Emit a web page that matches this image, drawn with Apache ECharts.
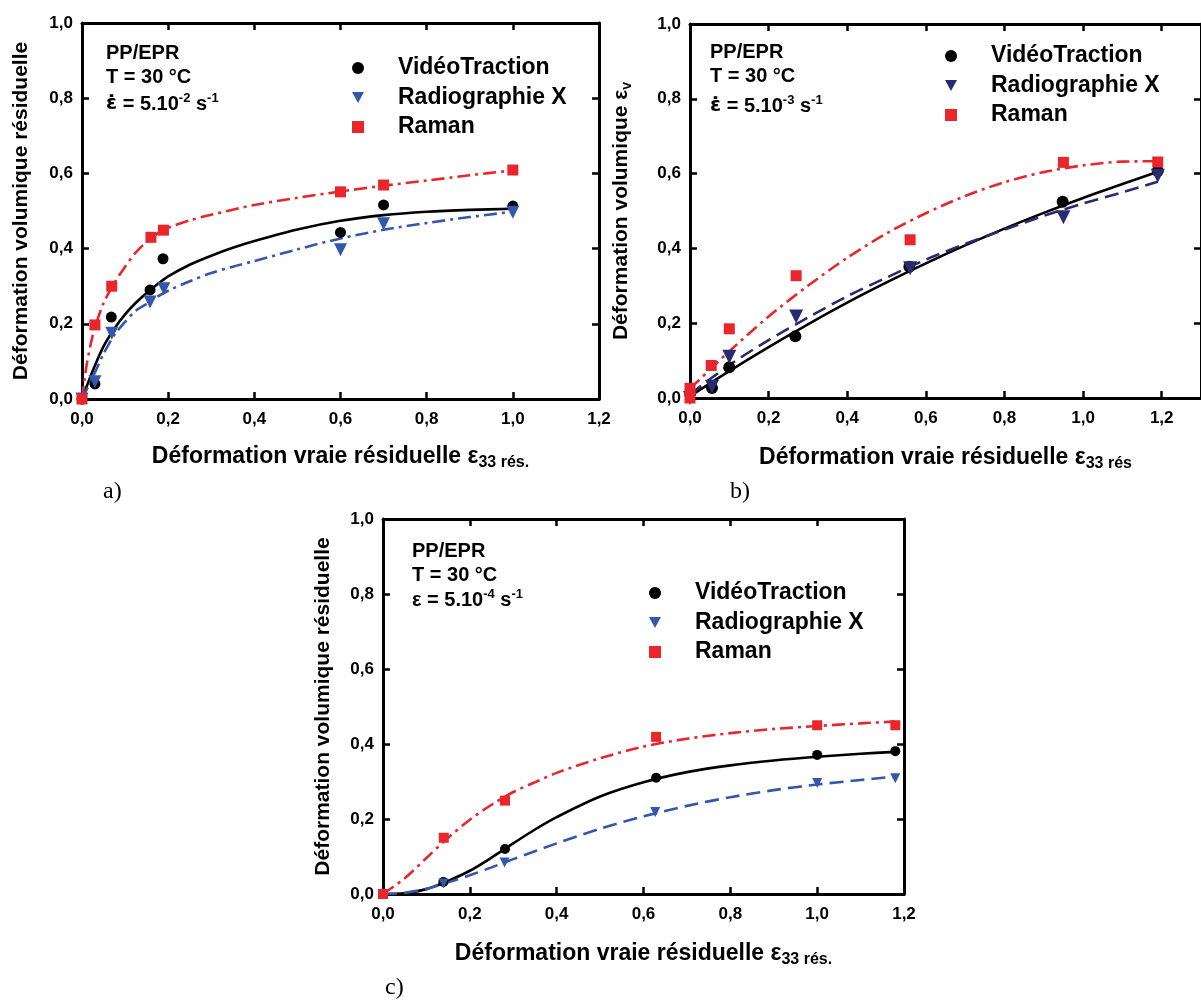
<!DOCTYPE html>
<html>
<head>
<meta charset="utf-8">
<script src="https://cdn.jsdelivr.net/npm/echarts@6/dist/echarts.min.js"></script>
<style>
html,body{margin:0;padding:0;background:#fff;}
#chart{width:1201px;height:1001px;}
</style>
</head>
<body>
<div id="chart"></div>
<script>
// ---------- tick labels ----------
const xTickLabels = ['0,0', '0,2', '0,4', '0,6', '0,8', '1,0', '1,2'];
const yTickLabels = ['0,0', '0,2', '0,4', '0,6', '0,8', '1,0'];
const legendNames = ['VidéoTraction', 'Radiographie X', 'Raman'];

// ---------- panel a (5.10-2 s-1) ----------
const aVideo = [[0,0],[0.03,0.04],[0.068,0.218],[0.158,0.29],[0.188,0.373],[0.6,0.443],[0.7,0.516],[1.0,0.513]];
const aRadio = [[0,0],[0.03,0.046],[0.069,0.175],[0.158,0.258],[0.19,0.293],[0.6,0.397],[0.7,0.466],[1.0,0.497]];
const aRaman = [[0,0],[0.03,0.197],[0.069,0.30],[0.16,0.43],[0.189,0.449],[0.6,0.551],[0.7,0.569],[1.0,0.609]];
const aVideoFit = [[0,0],[0.025,0.075],[0.05,0.14],[0.075,0.187],[0.1,0.225],[0.125,0.256],[0.15,0.282],[0.175,0.305],[0.2,0.326],[0.25,0.357],[0.3,0.381],[0.35,0.402],[0.4,0.42],[0.5,0.451],[0.6,0.474],[0.7,0.489],[0.8,0.498],[0.9,0.503],[1.0,0.506]];
const aRadioFit = [[0,0],[0.025,0.058],[0.05,0.12],[0.075,0.17],[0.1,0.205],[0.125,0.235],[0.15,0.253],[0.175,0.272],[0.2,0.288],[0.25,0.313],[0.3,0.335],[0.35,0.352],[0.4,0.367],[0.5,0.398],[0.6,0.427],[0.7,0.45],[0.8,0.468],[0.9,0.484],[1.0,0.498]];
const aRamanFit = [[0,0],[0.01,0.085],[0.02,0.145],[0.03,0.19],[0.05,0.255],[0.075,0.308],[0.1,0.352],[0.125,0.39],[0.15,0.418],[0.175,0.44],[0.2,0.455],[0.25,0.475],[0.3,0.49],[0.4,0.516],[0.5,0.535],[0.6,0.552],[0.7,0.567],[0.8,0.581],[0.9,0.595],[1.0,0.608]];

// ---------- panel b (5.10-3 s-1) ----------
const bVideo = [[0,0.012],[0.056,0.027],[0.1,0.082],[0.268,0.165],[0.558,0.351],[0.948,0.525],[1.19,0.607]];
const bRadio = [[0,0],[0.056,0.03],[0.1,0.11],[0.27,0.218],[0.56,0.347],[0.95,0.483],[1.19,0.594]];
const bRaman = [[0,0],[0,0.026],[0.054,0.087],[0.1,0.185],[0.27,0.327],[0.56,0.423],[0.95,0.63],[1.19,0.631]];
const bVideoFit = [[0,0.005],[0.1,0.072],[0.2,0.136],[0.3,0.197],[0.4,0.255],[0.5,0.309],[0.6,0.36],[0.7,0.408],[0.8,0.453],[0.9,0.495],[1.0,0.535],[1.1,0.572],[1.19,0.605]];
const bRadioFit = [[0,0.01],[0.1,0.088],[0.2,0.155],[0.3,0.215],[0.4,0.272],[0.5,0.322],[0.6,0.37],[0.7,0.412],[0.8,0.45],[0.9,0.487],[1.0,0.52],[1.1,0.55],[1.19,0.578]];
const bRamanFit = [[0,0.025],[0.05,0.075],[0.1,0.125],[0.2,0.218],[0.3,0.3],[0.4,0.375],[0.5,0.44],[0.6,0.494],[0.7,0.54],[0.8,0.577],[0.9,0.604],[1.0,0.622],[1.1,0.632],[1.19,0.633]];

// ---------- panel c (5.10-4 s-1) ----------
const cVideo = [[0,0],[0.139,0.032],[0.281,0.12],[0.629,0.31],[1.0,0.371],[1.18,0.381]];
const cRadio = [[0,0],[0.139,0.028],[0.28,0.084],[0.627,0.219],[1.0,0.296],[1.18,0.309]];
const cRaman = [[0,0],[0.14,0.15],[0.281,0.249],[0.629,0.419],[1.0,0.45],[1.18,0.45]];
const cVideoFit = [[0,0],[0.05,0.002],[0.1,0.013],[0.15,0.035],[0.2,0.062],[0.25,0.097],[0.3,0.135],[0.35,0.172],[0.4,0.205],[0.5,0.26],[0.6,0.298],[0.7,0.325],[0.8,0.343],[0.9,0.356],[1.0,0.366],[1.1,0.374],[1.18,0.379]];
const cRadioFit = [[0,0],[0.05,0.003],[0.1,0.014],[0.15,0.031],[0.2,0.05],[0.25,0.071],[0.3,0.093],[0.4,0.135],[0.5,0.174],[0.6,0.207],[0.7,0.235],[0.8,0.258],[0.9,0.277],[1.0,0.292],[1.1,0.304],[1.18,0.313]];
const cRamanFit = [[0,0],[0.05,0.042],[0.1,0.096],[0.15,0.15],[0.2,0.198],[0.25,0.238],[0.3,0.272],[0.35,0.298],[0.4,0.323],[0.5,0.362],[0.6,0.393],[0.7,0.414],[0.8,0.429],[0.9,0.44],[1.0,0.448],[1.1,0.455],[1.18,0.46]];

// ---------- styling ----------
const F = "'Liberation Sans', Arial, Helvetica, sans-serif";
const FD = "'DejaVu Sans', 'Liberation Sans', sans-serif";
const BLACK = '#000000', RED = '#e8262b', BLUE = '#3556ad', NAVY = '#272c72';
const DASHDOT = [13, 5, 3, 5];
const DASH = [14, 7];
const TRI = 'path://M0,0 L12,0 L6,11 Z';

const grids = [
  {left: 82, top: 23, width: 517, height: 376},
  {left: 690, top: 24, width: 519, height: 374},
  {left: 383, top: 519, width: 521, height: 375}
];
const xMax = [1.2, 1.3, 1.2];
const xNames = ['{m|Déformation vraie résiduelle ε}{s|33 rés.}', '{m|Déformation vraie résiduelle ε}{s|33 rés}', '{m|Déformation vraie résiduelle ε}{s|33 rés.}'];
const yNames = ['Déformation volumique résiduelle', '{m|Déformation volumique ε}{s|v}', 'Déformation volumique résiduelle'];
const yNameGap = [50, 56, 49];
const xNameGap = [43, 45, 45];

const xAxes = [], yAxes = [];
grids.forEach((g, i) => {
  const common = {
    gridIndex: i, type: 'value', min: 0, interval: 0.2,
    axisLine: {onZero: false, lineStyle: {color: BLACK, width: 3}},
    axisTick: {inside: true, length: 7, lineStyle: {color: BLACK, width: 2.5}},
    splitLine: {show: false}
  };
  xAxes.push(Object.assign({}, common, {
    max: xMax[i], position: 'bottom',
    axisLabel: {showMaxLabel: xMax[i] <= 1.2, margin: 12, color: BLACK, fontSize: 17, fontWeight: 'bold', fontFamily: F,
      formatter: (v, idx) => xTickLabels[idx] || ''},
    name: xNames[i], nameLocation: 'middle', nameGap: xNameGap[i],
    nameTextStyle: {color: BLACK, fontFamily: F, fontWeight: 'bold', fontSize: 23,
      rich: {m: {fontSize: 23, fontWeight: 'bold', fontFamily: F, color: BLACK, lineHeight: 29},
             s: {fontSize: 16, fontWeight: 'bold', fontFamily: F, color: BLACK, verticalAlign: 'bottom'}}}
  }));
  xAxes.push(Object.assign({}, common, {
    max: xMax[i], position: 'top', axisLabel: {show: false}
  }));
  yAxes.push(Object.assign({}, common, {
    max: 1.0, position: 'left',
    axisLabel: {margin: 9, color: BLACK, fontSize: 17, fontWeight: 'bold', fontFamily: F,
      formatter: (v, idx) => yTickLabels[idx] || ''},
    name: yNames[i], nameLocation: 'middle', nameGap: yNameGap[i], nameRotate: 90,
    nameTextStyle: {color: BLACK, fontFamily: F, fontWeight: 'bold', fontSize: 21,
      rich: {m: {fontSize: 21, fontWeight: 'bold', fontFamily: F, color: BLACK, lineHeight: 26},
             s: {fontSize: 14, fontWeight: 'bold', fontFamily: F, color: BLACK, verticalAlign: 'bottom'}}}
  }));
  yAxes.push(Object.assign({}, common, {
    max: 1.0, position: 'right', axisLabel: {show: false}
  }));
});

const panels = [
  {v: aVideo, r: aRadio, m: aRaman, vf: aVideoFit, rf: aRadioFit, mf: aRamanFit, blue: BLUE, blueLine: DASHDOT, sz: [11, 13, 11]},
  {v: bVideo, r: bRadio, m: bRaman, vf: bVideoFit, rf: bRadioFit, mf: bRamanFit, blue: NAVY, blueLine: DASH, sz: [12, 14, 11]},
  {v: cVideo, r: cRadio, m: cRaman, vf: cVideoFit, rf: cRadioFit, mf: cRamanFit, blue: BLUE, blueLine: DASH, sz: [10, 10, 10]}
];

const series = [];
panels.forEach((p, i) => {
  const ax = {xAxisIndex: i * 2, yAxisIndex: i * 2};
  const line = (data, color, type) => Object.assign({
    type: 'line', name: 'fit', data, smooth: 0.3, showSymbol: false,
    symbol: 'none', silent: true, z: 2,
    lineStyle: {color, width: 2.6, type}
  }, ax);
  series.push(line(p.vf, BLACK, 'solid'));
  series.push(line(p.rf, p.blue, p.blueLine));
  series.push(line(p.mf, RED, DASHDOT));
  series.push(Object.assign({type: 'scatter', name: legendNames[0], data: p.v, symbol: 'circle', symbolSize: p.sz[0], itemStyle: {color: BLACK, opacity: 1}, z: 4}, ax));
  series.push(Object.assign({type: 'scatter', name: legendNames[1], data: p.r, symbol: 'triangle', symbolRotate: 180, symbolSize: p.sz[1], itemStyle: {color: p.blue, opacity: 1}, z: 4}, ax));
  series.push(Object.assign({type: 'scatter', name: legendNames[2], data: p.m, symbol: 'rect', symbolSize: p.sz[2], itemStyle: {color: RED, opacity: 1}, z: 5}, ax));
});

const legendPos = [{left: 352, top: 56}, {left: 945, top: 44}, {left: 649, top: 581}];
const legends = legendPos.map((pos, i) => ({
  left: pos.left, top: pos.top, padding: 0, orient: 'vertical', itemWidth: 12, itemHeight: 12, itemGap: 5.5,
  selectedMode: false,
  textStyle: {color: BLACK, fontFamily: F, fontWeight: 'bold', fontSize: 23, lineHeight: 24, padding: [0, 0, 0, 29]},
  data: [
    {name: legendNames[0], icon: 'circle', itemStyle: {color: BLACK}},
    {name: legendNames[1], icon: TRI, itemStyle: {color: panels[i].blue}},
    {name: legendNames[2], icon: 'rect', itemStyle: {color: RED}}
  ]
}));

const annotRich = {
  m: {fontSize: 20, fontWeight: 'bold', fontFamily: F, fill: BLACK, lineHeight: 24},
  e: {fontSize: 20, fontWeight: 'bold', fontFamily: FD, fill: BLACK, lineHeight: 24},
  s: {fontSize: 13, fontWeight: 'bold', fontFamily: F, fill: BLACK, verticalAlign: 'top'}
};
const annotations = [
  {x: 106, y: [53, 77, 104], rate: '{e|ε̇}{m| = 5.10}{s|-2}{m| s}{s|-1}'},
  {x: 710, y: [52, 76, 106], rate: '{e|ε̇}{m| = 5.10}{s|-3}{m| s}{s|-1}'},
  {x: 412, y: [551, 575, 600], rate: '{m|ε = 5.10}{s|-4}{m| s}{s|-1}'}
];
const graphics = [];
annotations.forEach(a => {
  ['{m|PP/EPR}', '{m|T = 30 °C}', a.rate].forEach((t, k) => {
    graphics.push({type: 'text', x: a.x, y: a.y[k], silent: true,
      style: {text: t, rich: annotRich, verticalAlign: 'middle', align: 'left'}});
  });
});
const panelTags = [{t: 'a)', x: 103, y: 492}, {t: 'b)', x: 730, y: 492}, {t: 'c)', x: 385, y: 988}];
panelTags.forEach(p => graphics.push({type: 'text', x: p.x, y: p.y, silent: true,
  style: {text: p.t, fontSize: 24, fontFamily: "'Liberation Serif', 'Times New Roman', serif", fill: BLACK, verticalAlign: 'middle'}}));

const chart = echarts.init(document.getElementById('chart'), null, {renderer: 'canvas'});
chart.setOption({
  backgroundColor: '#ffffff',
  animation: false,
  grid: grids.map(g => Object.assign({containLabel: false}, g)),
  xAxis: xAxes,
  yAxis: yAxes,
  legend: legends,
  series,
  graphic: graphics
});
</script>
</body>
</html>
